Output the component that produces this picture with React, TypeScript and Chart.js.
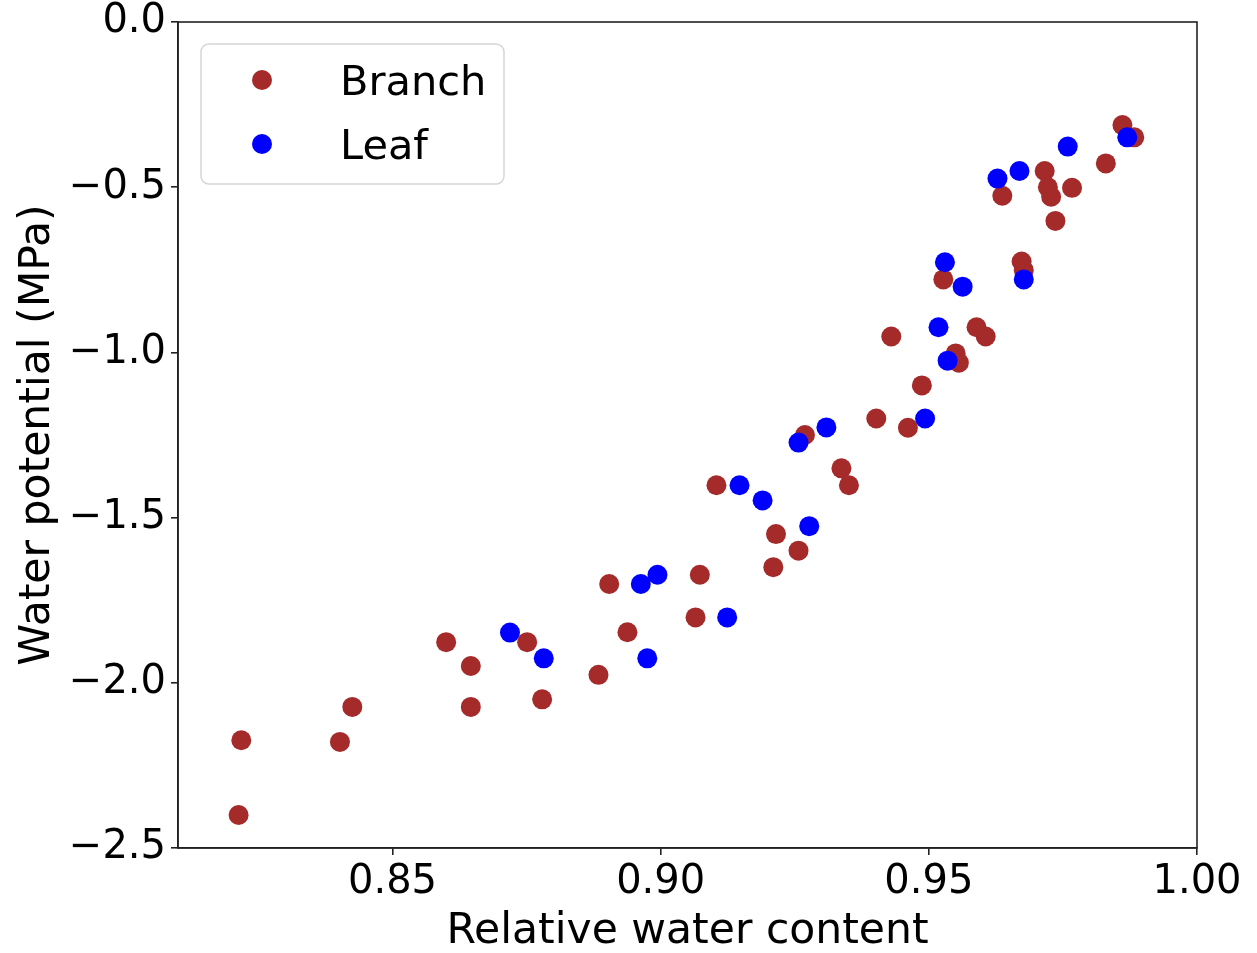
import React, { useEffect, useRef } from "react";
import { Chart, registerables } from "chart.js";

Chart.register(...registerables);

const branchX = [
  0.8218, 0.8213, 0.8425, 0.8402, 0.86, 0.8646, 0.8646, 0.8751, 0.8779, 0.8884,
  0.8904, 0.8938, 0.9065, 0.9073, 0.9104, 0.921, 0.9215, 0.9257, 0.9269, 0.9337,
  0.9351, 0.9402, 0.943, 0.9461, 0.9487, 0.9527, 0.955, 0.9556, 0.9589, 0.9606,
  0.9637, 0.9673, 0.9677, 0.9716, 0.9722, 0.9728, 0.9736, 0.9767, 0.983, 0.9861,
  0.9883,
];
const branchY = [
  -2.174, -2.4, -2.073, -2.179, -1.877, -1.949, -2.073, -1.877, -2.05, -1.976,
  -1.701, -1.847, -1.802, -1.673, -1.402, -1.65, -1.55, -1.6, -1.25, -1.351,
  -1.402, -1.2, -0.952, -1.228, -1.1, -0.779, -1.003, -1.031, -0.924, -0.952,
  -0.526, -0.725, -0.751, -0.451, -0.5, -0.529, -0.602, -0.502, -0.428, -0.312,
  -0.349,
];
const leafX = [
  0.8719, 0.8782, 0.8963, 0.8975, 0.8994, 0.9124, 0.9147, 0.919, 0.9257, 0.9277,
  0.9309, 0.9493, 0.9518, 0.953, 0.9535, 0.9563, 0.9628, 0.9669, 0.9677, 0.9759,
  0.987,
];
const leafY = [
  -1.848, -1.926, -1.701, -1.926, -1.673, -1.802, -1.402, -1.448, -1.273, -1.526,
  -1.227, -1.2, -0.924, -0.727, -1.025, -0.801, -0.474, -0.451, -0.779, -0.377,
  -0.349,
];

const xTicks = [0.85, 0.9, 0.95, 1.0];
const xTickLabels = ["0.85", "0.90", "0.95", "1.00"];
const yTicks = [0, -0.5, -1.0, -1.5, -2.0, -2.5];
const yTickLabels = ["0.0", "\u22120.5", "\u22121.0", "\u22121.5", "\u22122.0", "\u22122.5"];

const seriesNames = ["Branch", "Leaf"];
const seriesColors = ["#a52a2a", "#0000ff"];

const FONT = "'DejaVu Sans', sans-serif";
const FS = 40;
const TITLE_FS = 42.5;
const LEGEND_FS = 41.5;

const framePlugin = {
  id: "frameAndLegend",
  afterDatasetsDraw(chart: any) {
    const { ctx, chartArea } = chart;
    ctx.save();
    ctx.strokeStyle = "#222";
    ctx.lineWidth = 1.6;
    ctx.strokeRect(chartArea.left, chartArea.top, chartArea.right - chartArea.left, chartArea.bottom - chartArea.top);

    // legend box
    const bx = chartArea.left + 23;
    const by = chartArea.top + 22;
    const bw = 303;
    const bh = 140;
    const r = 8;
    ctx.beginPath();
    ctx.moveTo(bx + r, by);
    ctx.lineTo(bx + bw - r, by);
    ctx.arcTo(bx + bw, by, bx + bw, by + r, r);
    ctx.lineTo(bx + bw, by + bh - r);
    ctx.arcTo(bx + bw, by + bh, bx + bw - r, by + bh, r);
    ctx.lineTo(bx + r, by + bh);
    ctx.arcTo(bx, by + bh, bx, by + bh - r, r);
    ctx.lineTo(bx, by + r);
    ctx.arcTo(bx, by, bx + r, by, r);
    ctx.closePath();
    ctx.fillStyle = "rgba(255,255,255,0.8)";
    ctx.fill();
    ctx.strokeStyle = "#d6d6d6";
    ctx.lineWidth = 1.5;
    ctx.stroke();

    ctx.font = `${LEGEND_FS}px ${FONT}`;
    ctx.textAlign = "left";
    ctx.textBaseline = "alphabetic";
    seriesNames.forEach((name, i) => {
      const my = by + 36 + i * 64;
      ctx.beginPath();
      ctx.arc(bx + 61, my, 10, 0, Math.PI * 2);
      ctx.fillStyle = seriesColors[i];
      ctx.fill();
      ctx.fillStyle = "#000";
      ctx.fillText(name, bx + 139, my + 15);
    });
    ctx.restore();
  },
};

export default function App() {
  const ref = useRef<HTMLCanvasElement>(null);
  useEffect(() => {
    if (!ref.current) return;
    const chart = new Chart(ref.current, {
      type: "scatter",
      data: {
        datasets: [
          {
            label: seriesNames[0],
            data: branchX.map((x, i) => ({ x, y: branchY[i] })),
            backgroundColor: seriesColors[0],
            borderWidth: 0,
            pointRadius: 10,
            order: 2,
          },
          {
            label: seriesNames[1],
            data: leafX.map((x, i) => ({ x, y: leafY[i] })),
            backgroundColor: seriesColors[1],
            borderWidth: 0,
            pointRadius: 10,
            order: 1,
          },
        ],
      },
      options: {
        animation: false,
        responsive: false,
        devicePixelRatio: 1,
        layout: { padding: { left: 0, top: 22, right: 60, bottom: 0 } },
        plugins: { legend: { display: false }, tooltip: { enabled: false } },
        scales: {
          x: {
            type: "linear",
            min: 0.81,
            max: 1.0,
            afterBuildTicks: (s: any) => {
              s.ticks = xTicks.map((v) => ({ value: v }));
            },
            afterFit: (s: any) => {
              s.height = 105;
              s.paddingLeft = 0;
              s.paddingRight = 0;
            },
            ticks: {
              color: "#000",
              font: { family: FONT, size: FS },
              padding: 4,
              maxRotation: 0,
              autoSkip: false,
              callback: (_v: any, i: number) => xTickLabels[i],
            },
            grid: { drawOnChartArea: false, drawTicks: true, tickLength: 7, color: "#222", lineWidth: 1.6 },
            border: { display: true, color: "#222", width: 1.6 },
            title: {
              display: true,
              text: "Relative water content",
              color: "#000",
              font: { family: FONT, size: TITLE_FS, lineHeight: 1 },
              padding: { top: 0, bottom: 0 },
            },
          },
          y: {
            type: "linear",
            min: -2.5,
            max: 0,
            afterBuildTicks: (s: any) => {
              s.ticks = yTicks.map((v) => ({ value: v }));
            },
            afterFit: (s: any) => {
              s.width = 178;
              s.paddingTop = 0;
              s.paddingBottom = 0;
            },
            ticks: {
              color: "#000",
              font: { family: FONT, size: FS },
              padding: 5,
              autoSkip: false,
              callback: (_v: any, i: number) => yTickLabels[i],
            },
            grid: { drawOnChartArea: false, drawTicks: true, tickLength: 7, color: "#222", lineWidth: 1.6 },
            border: { display: true, color: "#222", width: 1.6 },
            title: {
              display: true,
              text: "Water potential (MPa)",
              color: "#000",
              font: { family: FONT, size: TITLE_FS },
              padding: { top: 12, bottom: 0 },
            },
          },
        },
      },
      plugins: [framePlugin],
    } as any);
    return () => chart.destroy();
  }, []);
  return (
    <div style={{ position: "fixed", left: 0, top: 0, width: 1257, height: 953, background: "#fff" }}>
      <canvas ref={ref} width={1257} height={953} style={{ display: "block" }} />
    </div>
  );
}
